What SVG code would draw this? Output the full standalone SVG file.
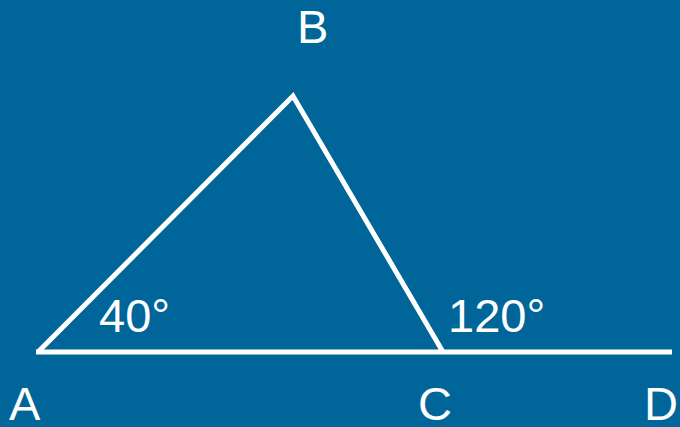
<svg xmlns="http://www.w3.org/2000/svg" width="680" height="427" viewBox="0 0 680 427">
<style>
.ln{stroke:#fff;stroke-width:5;fill:none;stroke-linejoin:miter}
.lb{font-family:"Liberation Sans",Arial,sans-serif;font-size:47px;fill:#fff}
</style>
<rect width="680" height="427" fill="#006699"/>
<g id="connectors">
<path class="ln" d="M38,352 L293,96 L443,352"/>
<path class="ln" d="M36,352 L672,352"/>
</g>
<g id="A"><text class="lb" x="9" y="420">A</text></g>
<g id="B"><text class="lb" x="297" y="43">B</text></g>
<g id="C"><text class="lb" x="418" y="420">C</text></g>
<g id="D"><text class="lb" x="644" y="420">D</text></g>
<g id="angleA"><text class="lb" x="99" y="332">40°</text></g>
<g id="angleC"><text class="lb" x="448" y="332">120°</text></g>
</svg>
